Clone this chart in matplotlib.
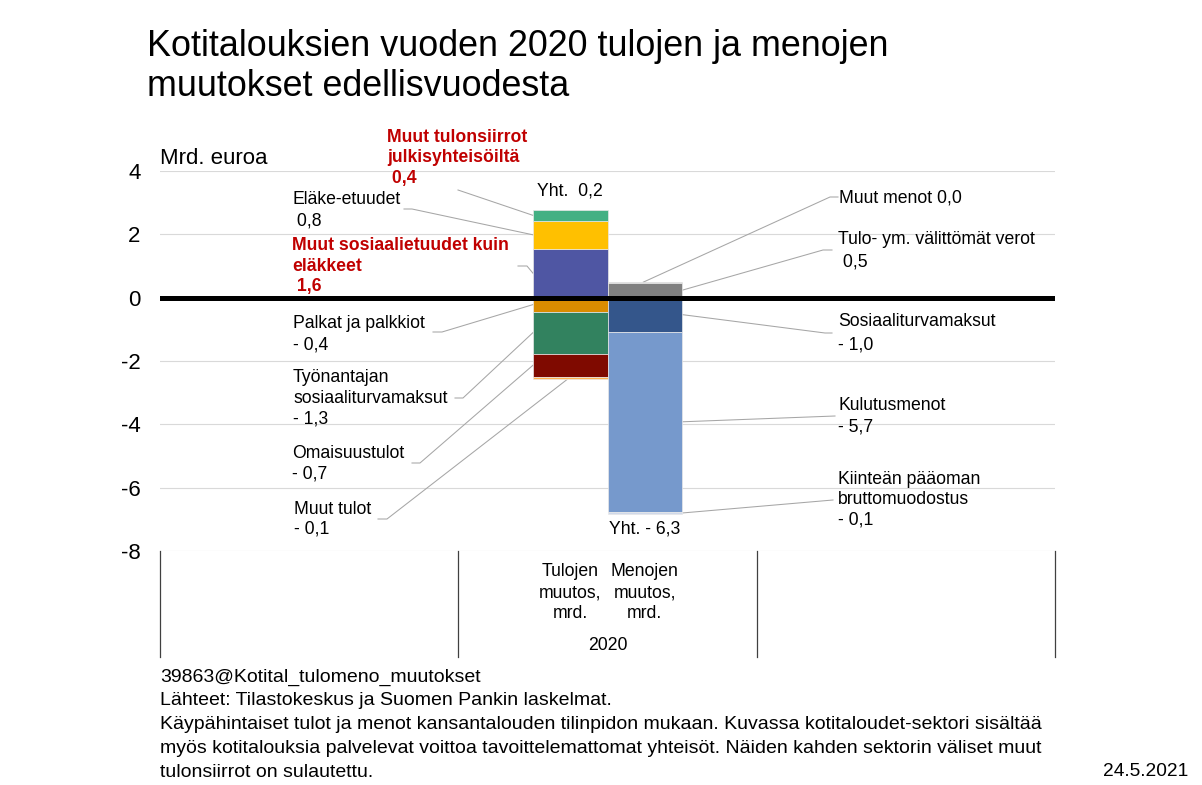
import matplotlib
matplotlib.use("Agg")
import matplotlib.pyplot as plt

plt.rcParams['font.family'] = ['Liberation Sans', 'DejaVu Sans']

W, H = 1202, 785

TITLE = "Kotitalouksien vuoden 2020 tulojen ja menojen\nmuutokset edellisvuodesta"
UNIT = "Mrd. euroa"
Y_TICKS = [4, 2, 0, -2, -4, -6, -8]
BAR_CATEGORIES = ["Tulojen\nmuutos,\nmrd.", "Menojen\nmuutos,\nmrd."]
GROUP_LABEL = "2020"

# tulot (income), stacked: positives upwards, negatives downwards
income_items = [
    "Muut sosiaalietuudet kuin\neläkkeet\n 1,6",
    "Eläke-etuudet\n 0,8",
    "Muut tulonsiirrot\njulkisyhteisöiltä\n 0,4",
    "Palkat ja palkkiot\n- 0,4",
    "Työnantajan\nsosiaaliturvamaksut\n- 1,3",
    "Omaisuustulot\n- 0,7",
    "Muut tulot\n- 0,1",
]
income_values = [1.55, 0.87, 0.36, -0.44, -1.33, -0.73, -0.08]
income_colors = ["#4F56A3", "#FFC000", "#43B083", "#DA8C00",
                 "#32825F", "#7F0A00", "#FFB14E"]
income_total = "Yht.  0,2"

# menot (expenses)
expense_items = [
    "Tulo- ym. välittömät verot\n 0,5",
    "Muut menot 0,0",
    "Sosiaaliturvamaksut\n- 1,0",
    "Kulutusmenot\n- 5,7",
    "Kiinteän pääoman\nbruttomuodostus\n- 0,1",
]
expense_values = [0.47, 0.02, -1.07, -5.70, -0.06]
expense_colors = ["#808080", "#A5A5A5", "#34568B", "#7699CC", "#D0D9EA"]
expense_total = "Yht. - 6,3"

FOOTER = [
    "39863@Kotital_tulomeno_muutokset",
    "Lähteet: Tilastokeskus ja Suomen Pankin laskelmat.",
    "Käypähintaiset tulot ja menot kansantalouden tilinpidon mukaan. Kuvassa kotitaloudet-sektori sisältää",
    "myös kotitalouksia palvelevat voittoa tavoittelemattomat yhteisöt. Näiden kahden sektorin väliset muut",
    "tulonsiirrot on sulautettu.",
]
DATE = "24.5.2021"

RED = "#C00000"
LEADER = "#A6A6A6"


def stack(values):
    """Return bottoms for a stacked bar with positives up and negatives down."""
    pos, neg, bottoms = 0.0, 0.0, []
    for v in values:
        if v >= 0:
            bottoms.append(pos)
            pos += v
        else:
            bottoms.append(neg)
            neg += v
    return bottoms, pos, neg


def fig_text(x, y, s, **kw):
    return fig.text(x / W, 1 - y / H, s, **kw)


def multiline(x, y, s, spacing, **kw):
    for i, line in enumerate(s.split("\n")):
        fig_text(x, y + i * spacing, line, va="center", **kw)


fig = plt.figure(figsize=(W / 100, H / 100), dpi=100)
ax = fig.add_axes([160 / W, 1 - 551 / H, (1055 - 160) / W, (551 - 171) / H])
ax.set_xlim(0, 3)
ax.set_ylim(-8, 4)

bar_w = 0.25
x_inc = 1.5 - bar_w / 2
x_exp = 1.5 + bar_w / 2

inc_bottoms, inc_top, inc_low = stack(income_values)
exp_bottoms, exp_top, exp_low = stack(expense_values)

ax.bar([x_inc] * len(income_values), income_values, bottom=inc_bottoms,
       width=bar_w, color=income_colors, edgecolor="#E8E8E8", linewidth=0.5,
       zorder=2)
ax.bar([x_exp] * len(expense_values), expense_values, bottom=exp_bottoms,
       width=bar_w, color=expense_colors, edgecolor="#E8E8E8", linewidth=0.5,
       zorder=2)

# axis styling
for side in ax.spines.values():
    side.set_visible(False)
ax.set_yticks(Y_TICKS)
ax.set_yticklabels([str(t) for t in Y_TICKS], fontsize=16)
ax.tick_params(axis="y", length=0, pad=14)
ax.set_xticks([])
for t in Y_TICKS:
    if t != 0:
        ax.axhline(t, color="#D9D9D9", lw=0.8, zorder=0)
ax.axhline(0, color="black", lw=3.6, zorder=3)

# category separators below the plot area
sep_t = ax.get_xaxis_transform()
for xs in [0, 1, 2, 3]:
    ax.plot([xs, xs], [0, -0.28], transform=sep_t, color="#404040",
            lw=0.9, clip_on=False)
for xc, lab in zip([x_inc, x_exp], BAR_CATEGORIES):
    for i, line in enumerate(lab.split("\n")):
        ax.text(xc, (551 - (572 + i * 20.5)) / 380, line, transform=sep_t,
                ha="center", va="center", fontsize=12.7)
ax.text(1.5, (551 - 646) / 380, GROUP_LABEL, transform=sep_t,
        ha="center", va="center", fontsize=12.7)

# totals
ax.annotate(income_total, (x_inc, inc_top), xytext=(0, 7),
            textcoords="offset points", ha="center", va="bottom",
            fontsize=12.7)
ax.annotate(expense_total, (x_exp, exp_low), xytext=(0, -5),
            textcoords="offset points", ha="center", va="top",
            fontsize=12.7)

# data labels: text position (px), line spacing, leader stub (px), anchor
inc_layout = [
    ((292, 246), 20.5, (518, 527, 266), "left"),
    ((292, 200), 21.5, (404, 412, 209), "left"),
    ((387, 137), 20.5, (458, 458, 190), "left"),
    ((293, 323), 21.5, (433, 442, 332), "left"),
    ((293, 378), 20.5, (455, 463, 398), "left"),
    ((292, 453), 21.0, (412, 420, 463), "left"),
    ((294, 509), 20.5, (378, 387, 519), "bottom"),
]
exp_layout = [
    ((838, 240), 22.0, (832, 823, 250), "right"),
    ((839, 198), 21.0, (838, 830, 197), "top"),
    ((838, 322), 22.5, (832, 825, 333), "right"),
    ((838, 405), 22.0, (835, 835, 416), "right"),
    ((838, 479), 20.5, (833, 833, 500), "right"),
]
red_items = {income_items[0], income_items[2]}

inv = ax.transData.inverted()


def px_to_data(x, y):
    return inv.transform((x, H - y))


def draw_labels(xbar, items, values, bottoms, layout):
    for item, v, b, (pos, sp, stub, anchor) in zip(items, values, bottoms,
                                                  layout):
        red = item in red_items
        multiline(pos[0], pos[1], item, sp, fontsize=12.7,
                  color=RED if red else "black",
                  fontweight="bold" if red else "normal")
        mid = b + v / 2
        if anchor == "left":
            end = (xbar - bar_w / 2, mid)
        elif anchor == "right":
            end = (xbar + bar_w / 2, mid)
        elif anchor == "top":
            end = (xbar - 0.005, b + v)
        else:
            end = (xbar - 0.01, b + v)
        p0 = px_to_data(stub[0], stub[2])
        p1 = px_to_data(stub[1], stub[2])
        ax.plot([p0[0], p1[0], end[0]], [p0[1], p1[1], end[1]],
                color=LEADER, lw=0.75, clip_on=False, zorder=1)


draw_labels(x_inc, income_items, income_values, inc_bottoms, inc_layout)
draw_labels(x_exp, expense_items, expense_values, exp_bottoms, exp_layout)

# titles and notes
multiline(147, 47, TITLE, 40, fontsize=25.8)
fig_text(160, 158, UNIT, va="center", fontsize=16)
for i, line in enumerate(FOOTER):
    fig_text(160, 677 + i * 23.8, line, va="center", fontsize=14)
fig_text(1188, 772, DATE, va="center", ha="right", fontsize=13.8)

fig.savefig("out.png", dpi=100)
